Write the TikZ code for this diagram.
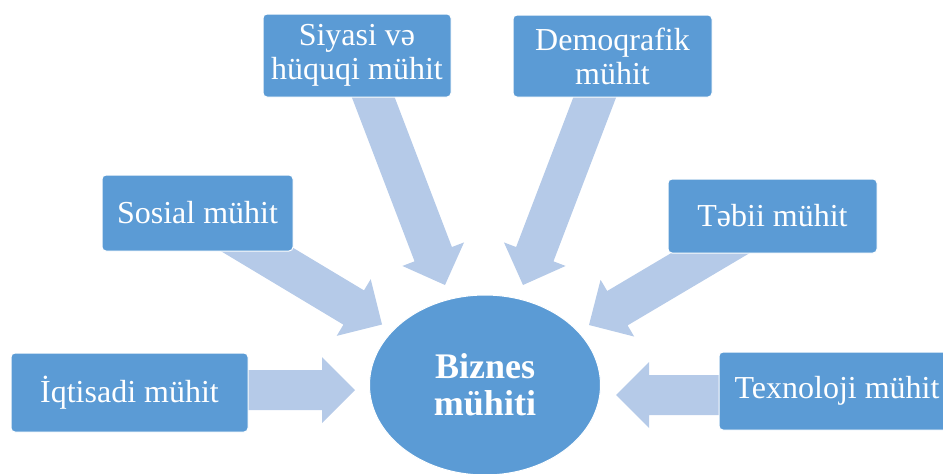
\documentclass[tikz,border=0pt]{standalone}
\usepackage{fontspec}
\setmainfont{Liberation Serif}
\usetikzlibrary{calc,shapes.geometric}
\definecolor{boxblue}{RGB}{91,155,213}
\definecolor{arrowblue}{RGB}{181,202,232}
\tikzset{
  envbox/.style={rectangle, rounded corners=4pt, fill=boxblue, draw=white, line width=1pt, text=white, font=\fontsize{32}{34}\selectfont, align=center, inner sep=0pt},
  core/.style={ellipse, fill=boxblue, draw=white, line width=1pt, text=white, font=\fontsize{36}{37}\selectfont\bfseries, align=center, inner sep=0pt, minimum width=231pt, minimum height=180pt},
  blockarrow/.style={fill=arrowblue}
}
\newcommand{\blockarr}[2]{%
  \coordinate (hb) at ($(#2)!33pt!(#1)$);
  \fill[blockarrow] ($(#1)!20pt!90:(#2)$) -- ($(hb)!20pt!90:(#2)$) -- ($(hb)!33pt!90:(#2)$) -- (#2) -- ($(hb)!33pt!-90:(#2)$) -- ($(hb)!20pt!-90:(#2)$) -- ($(#1)!20pt!-90:(#2)$) -- cycle;
}
\begin{document}
\begin{tikzpicture}[x=1pt,y=-1pt]
\useasboundingbox (0,0) rectangle (943,474);
\clip (0,0) rectangle (943,474);
% arrow end points
\coordinate (s1) at (230,390); \coordinate (t1) at (355,390);
\coordinate (s2) at (740,395); \coordinate (t2) at (616,395);
\coordinate (s3) at (359,60);  \coordinate (t3) at (445,285);
\coordinate (s4) at (609,60);  \coordinate (t4) at (523,285);
\coordinate (s5) at (224.5,230); \coordinate (t5) at (382,324.5);
\coordinate (s6) at (746,232); \coordinate (t6) at (589,325);
\blockarr{s1}{t1}
\blockarr{s2}{t2}
\blockarr{s3}{t3}
\blockarr{s4}{t4}
\blockarr{s5}{t5}
\blockarr{s6}{t6}
% boxes
\node[envbox, minimum width=237pt, minimum height=79pt] (iq) at (129.5,392.5) {İqtisadi mühit};
\node[envbox, minimum width=191pt, minimum height=76pt] (so) at (197.5,213) {Sosial mühit};
\node[envbox, minimum width=188pt, minimum height=83pt] (si) at (357,55.5) {Siyasi və\\hüquqi mühit};
\node[envbox, minimum width=199pt, minimum height=82pt] (de) at (612.5,56) {Demoqrafik\\mühit};
\node[envbox, minimum width=209pt, minimum height=74pt] (te) at (772.5,216) {Təbii mühit};
\node[envbox, minimum width=236pt, minimum height=78pt] (tx) at (837,391) {Texnoloji mühit};
\node[core] (bz) at (485,385) {Biznes\\mühiti};
\end{tikzpicture}
\end{document}
